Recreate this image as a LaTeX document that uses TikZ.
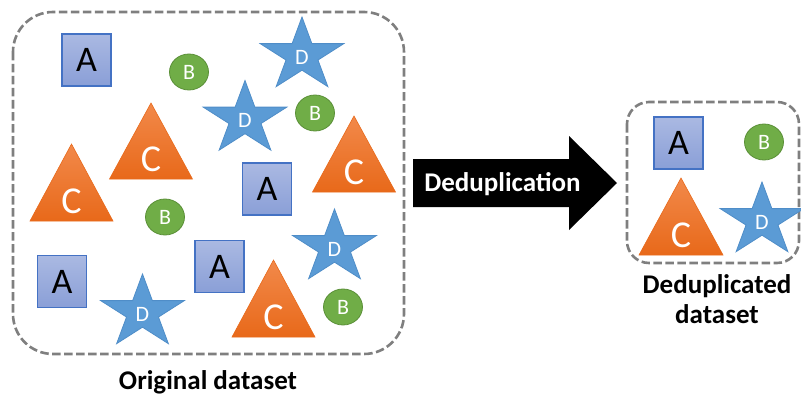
\documentclass[tikz,border=0pt]{standalone}
\usepackage{fontspec}
\setmainfont{Carlito}
\usetikzlibrary{shapes.geometric}
\definecolor{sqtop}{HTML}{AAB9E2}
\definecolor{sqbot}{HTML}{8A9FD7}
\definecolor{sqline}{HTML}{4472C4}
\definecolor{bfill}{HTML}{70AD47}
\definecolor{bline}{HTML}{5A8F37}
\definecolor{ttop}{HTML}{F2894A}
\definecolor{tbot}{HTML}{E8691A}
\definecolor{sfill}{HTML}{5B9BD5}
\definecolor{sline}{HTML}{4F8DC8}
\definecolor{dashgray}{HTML}{7F7F7F}
\tikzset{
  sqA/.style={rectangle, draw=sqline, line width=1.2pt, top color=sqtop, bottom color=sqbot,
    minimum width=49pt, minimum height=52pt, inner sep=0pt, font=\fontsize{36}{36}\selectfont, text=black},
  ballB/.style={ellipse, draw=bline, line width=0.8pt, fill=bfill, minimum width=39pt, minimum height=36pt,
    inner sep=0pt, font=\fontsize{22}{22}\selectfont, text=white},
  triC/.style={top color=ttop, bottom color=tbot, draw=tbot, line width=0.6pt},
  txtC/.style={inner sep=0pt, font=\fontsize{38}{38}\selectfont, text=white},
  starD/.style={fill=sfill, draw=sline, line width=0.8pt, line join=miter},
  txtD/.style={inner sep=0pt, font=\fontsize{22}{22}\selectfont, text=white},
  dashbox/.style={draw=dashgray, line width=2.6pt, dash pattern=on 8.5pt off 3.5pt},
  caption/.style={font=\bfseries\fontsize{27}{31}\selectfont, align=center, inner sep=0pt}
}
\newcommand\boxA[3]{\node[sqA] (#1) at (#2,#3) {A};}
\newcommand\ballB[3]{\node[ballB] (#1) at (#2,#3) {B};}
\newcommand\triC[5]{%
  \shade[triC] (#2,#3) -- ++(-#4,#5) -- ++(2*#4,0) -- cycle;
  \node[txtC] (#1) at (#2,#3+0.74*#5) {C};}
\newcommand\starD[3]{%
  \begin{scope}[shift={(#2,#3)}]
  \path[starD] (-90:44 and 38.5) -- (-54:16.8 and 14.7) -- (-18:44 and 38.5) -- (18:16.8 and 14.7)
    -- (54:44 and 38.5) -- (90:16.8 and 14.7) -- (126:44 and 38.5) -- (162:16.8 and 14.7)
    -- (198:44 and 38.5) -- (234:16.8 and 14.7) -- cycle;
  \end{scope}
  \node[txtD] (#1) at (#2,#3+1.5) {D};}
\begin{document}
\begin{tikzpicture}[x=1pt, y=-1pt]
\useasboundingbox (0,0) rectangle (801,396);
\clip (0,0) rectangle (801,396);
% original dataset box
\draw[dashbox, rounded corners=40pt] (13,12) rectangle (404,354);
\boxA{a1}{86.5}{60}
\ballB{b1}{189}{72}
\starD{d1}{302}{55.5}
\starD{d2}{245}{119}
\ballB{b2}{315}{113}
\triC{c1}{151}{103}{41.5}{76}
\triC{c2}{71.5}{144}{41.5}{77}
\triC{c3}{354}{116}{41.5}{76}
\boxA{a2}{267}{189}
\ballB{b3}{165}{217}
\starD{d3}{334.5}{247.5}
\boxA{a3}{62}{281.5}
\boxA{a4}{219.5}{266.5}
\starD{d4}{142.5}{312.5}
\triC{c4}{273.5}{260}{41.5}{77}
\ballB{b4}{343}{307}
\node[caption, anchor=base] (origlbl) at (208,389.5) {Original dataset};
% arrow
\fill[black] (413,159) -- (569,159) -- (569,136) -- (617,183) -- (569,230) -- (569,207) -- (413,207) -- cycle;
\node[caption, text=white, anchor=base] (arrlbl) at (502.5,191) {Deduplication};
% deduplicated box
\draw[dashbox, rounded corners=22pt] (627,102) rectangle (799,263);
\boxA{sa}{678.5}{143}
\ballB{sb}{764}{142}
\triC{sc}{681}{178}{42}{77}
\starD{sd}{762}{220.5}
\node[caption, anchor=base] (dedlbl1) at (717,293) {Deduplicated};
\node[caption, anchor=base] (dedlbl2) at (717,323) {dataset};
\end{tikzpicture}
\end{document}
